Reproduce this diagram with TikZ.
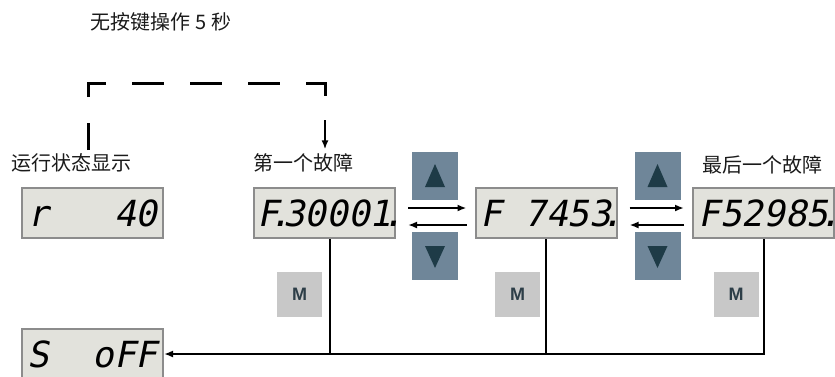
\documentclass[tikz,border=0pt]{standalone}
\usepackage{fontspec}
\setmainfont{Noto Sans CJK SC}
\setsansfont{Liberation Sans}
\newfontfamily\segfont[FakeSlant=0.2]{DejaVu Sans Mono}
\usetikzlibrary{positioning,arrows.meta,calc}

\definecolor{dispfill}{HTML}{E2E2DC}
\definecolor{displine}{HTML}{8C8C8C}
\definecolor{btnfill}{HTML}{6F8699}
\definecolor{tridark}{HTML}{1E3B47}
\definecolor{mfill}{HTML}{C8C8C8}
\definecolor{mtext}{HTML}{2D3E48}
\definecolor{lbltext}{HTML}{1A1A1A}

\newcommand{\blank}{\phantom{0}}
\newcommand{\dpt}{\llap{.\kern-0.34em}}

\begin{document}
\begin{tikzpicture}[
  x=0.5pt, y=-0.5pt,
  disp/.style={draw=displine, line width=1pt, fill=dispfill, minimum width=70.5pt, minimum height=25pt, inner sep=0pt, font=\segfont\fontsize{18}{18}\selectfont},
  lbl/.style={font=\fontsize{10}{12}\selectfont, text=lbltext, inner sep=0pt},
  updown/.style={fill=btnfill, minimum width=23pt, minimum height=24pt, inner sep=0pt},
  upbtn/.style={updown, path picture={\fill[tridark] ($(path picture bounding box.center)+(0,-12)$) -- ++(10,23) -- ++(-20,0) -- cycle;}},
  dnbtn/.style={updown, path picture={\fill[tridark] ($(path picture bounding box.center)+(0,12)$) -- ++(10,-22) -- ++(-20,0) -- cycle;}},
  mbtn/.style={fill=mfill, minimum size=22.5pt, inner sep=0pt, font=\sffamily\bfseries\fontsize{9}{9}\selectfont, text=mtext},
  arr/.style={-{Latex[length=4.5pt,width=3.5pt]}, line width=1pt},
  link/.style={line width=1pt},
  idle/.style={line width=1.5pt, dash pattern=on 16pt off 13pt, dash phase=2.5pt}
]
\useasboundingbox (0,0) rectangle (835,376);

% labels
\node[lbl] (wait) at (161,22) {无按键操作 5 秒};
\node[lbl] (runlbl) at (71.5,163) {运行状态显示};
\node[lbl] (firstlbl) at (303.5,163) {第一个故障};
\node[lbl] (lastlbl) at (762,165) {最后一个故障};

% displays
\node[disp] (run) at (92.5,213) {r\blank\blank\blank40};
\node[disp] (f1) at (324.5,213) {F\dpt\kern2pt 30001\dpt};
\node[disp] (f2) at (546,213) {F\blank7453\dpt};
\node[disp] (f3) at (763.5,213) {F52985\dpt};
\node[disp] (soff) at (92.5,354) {S\blank\blank oFF};

% keys
\node[upbtn] (up1) at (435,176) {};
\node[dnbtn] (dn1) at (435,256) {};
\node[upbtn] (up2) at (657.5,176) {};
\node[dnbtn] (dn2) at (657.5,256) {};
\node[mbtn] (m1) at (299.5,294) {M};
\node[mbtn] (m2) at (517.5,294) {M};
\node[mbtn] (m3) at (736,294) {M};

% scrolling through faults
\draw[arr, shorten <=6pt, shorten >=4pt] ([yshift=2.5pt]f1.east) -- ([yshift=2.5pt]f2.west);
\draw[arr, shorten <=4pt, shorten >=6pt] ([yshift=-6pt]f2.west) -- ([yshift=-6pt]f1.east);
\draw[arr, shorten <=6pt, shorten >=4pt] ([yshift=2.5pt]f2.east) -- ([yshift=2.5pt]f3.west);
\draw[arr, shorten <=4pt, shorten >=6pt] ([yshift=-6pt]f3.west) -- ([yshift=-6pt]f2.east);

% M key leads to S oFF
\coordinate (f1foot) at ([xshift=2.75pt]f1.south);
\draw[arr] (f3.south) |- (soff.east);
\draw[link] (f1foot) -- (f1foot |- soff.east);
\draw[link] (f2.south) -- (f2.south |- soff.east);

% timeout path
\coordinate (idlestart) at (88,150);
\coordinate (idleturn) at (325,83);
\coordinate (idleend) at (325,100);
\coordinate (tipstart) at (325,120);
\draw[idle] (idlestart) |- (idleturn) -- (idleend);
\draw[arr, shorten >=2pt] (tipstart) -- (tipstart |- firstlbl.north);
\end{tikzpicture}
\end{document}
